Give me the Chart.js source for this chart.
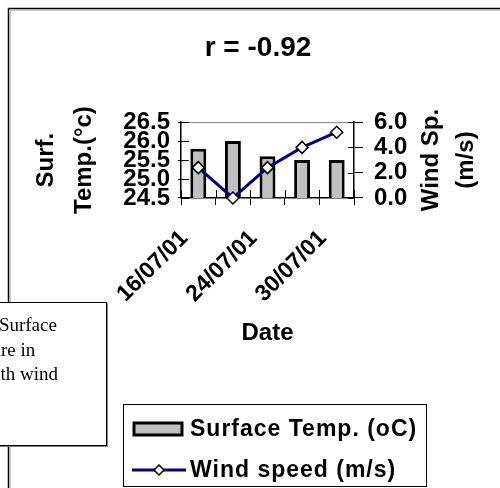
<!DOCTYPE html>
<html>
<head>
<meta charset="utf-8">
<title>r = -0.92</title>
<script src="https://cdn.jsdelivr.net/npm/chart.js@4/dist/chart.umd.min.js"></script>
<style>
  html, body { margin: 0; padding: 0; background: #fff; }
  body { width: 500px; height: 488px; position: relative; overflow: hidden; }
  #wrap { position: absolute; left: 0; top: 0; width: 500px; height: 488px; }
  /* text box pasted over the chart, runs off the left edge of the page */
  #note {
    position: absolute; left: -85px; top: 302px; width: 192px; height: 144px;
    box-sizing: border-box; border: 1px solid #000; background: #fff;
    box-shadow: 1px 1px 0 #808080;
    font: 19px "Times New Roman", "Liberation Serif", serif; line-height: 24.5px;
    padding: 10px 0 0 9px; white-space: nowrap; color: #000;
  }
</style>
</head>
<body>
<div id="wrap"><canvas id="mychart"></canvas></div>
<div id="note">Figure 7: Surface<br>temperature in<br>related with wind<br>speed</div>
<script>
const FONT = "Arial, 'Liberation Sans', sans-serif";

const dates = ['16/07/01', '20/07/01', '24/07/01', '27/07/01', '30/07/01'];
const surfaceTemp = [25.8, 26.0, 25.6, 25.5, 25.5];
const windSpeed = [2.4, 0.0, 2.4, 4.0, 5.2];
const tempTicks = [24.5, 25.0, 25.5, 26.0, 26.5];
const windTicks = [0, 2, 4, 6];

// frame, inner ticks, top border, right axis title and the boxed legend
const extras = {
  id: 'extras',
  beforeDraw(chart) {
    const c = chart.ctx;
    c.save();
    c.strokeStyle = '#000';
    c.lineWidth = 1.5;
    c.beginPath();
    c.moveTo(8.5, chart.height);
    c.lineTo(8.5, 8.5);
    c.lineTo(chart.width, 8.5);
    c.stroke();
    c.strokeStyle = '#9a9a9a';
    c.lineWidth = 1;
    c.beginPath();
    c.moveTo(10, chart.height);
    c.lineTo(10, 10);
    c.lineTo(chart.width, 10);
    c.stroke();
    c.restore();
  },
  beforeDatasetsDraw(chart) {
    const c = chart.ctx, a = chart.chartArea;
    const x = chart.scales.x, y = chart.scales.y, y1 = chart.scales.y1;
    c.save();
    c.strokeStyle = '#808080';
    c.lineWidth = 1;
    c.beginPath();
    c.moveTo(a.left, a.top + 0.5);
    c.lineTo(a.right, a.top + 0.5);
    c.stroke();

    c.strokeStyle = '#000';
    c.beginPath();
    y.ticks.forEach(t => {
      const p = Math.round(y.getPixelForValue(t.value)) + 0.5;
      c.moveTo(a.left, p); c.lineTo(a.left + 8, p);
    });
    y1.ticks.forEach(t => {
      const p = Math.round(y1.getPixelForValue(t.value)) + 0.5;
      c.moveTo(a.right, p); c.lineTo(a.right - 6, p);
    });
    const step = x.getPixelForValue(1) - x.getPixelForValue(0);
    for (let i = 0; i <= dates.length; i++) {
      const p = Math.round(x.getPixelForValue(0) - step / 2 + i * step) + 0.5;
      c.moveTo(p, a.bottom); c.lineTo(p, a.bottom - 8);
    }
    c.stroke();
    c.restore();
  },
  afterDraw(chart) {
    const c = chart.ctx, a = chart.chartArea;
    const y1 = chart.scales.y1;
    const cy = (a.top + a.bottom) / 2;
    c.save();
    c.fillStyle = '#000';
    c.font = 'bold 24px ' + FONT;
    c.textAlign = 'center';
    c.textBaseline = 'middle';
    [['Wind Sp.', 77], ['(m/s)', 112]].forEach(([t, dx]) => {
      c.save();
      c.translate(y1.left + dx, cy);
      c.rotate(-Math.PI / 2);
      c.fillText(t, 0, 0);
      c.restore();
    });

    // legend
    const bar = chart.data.datasets[1], line = chart.data.datasets[0];
    c.strokeStyle = '#000';
    c.lineWidth = 1;
    c.strokeRect(123.5, 404.5, 303, 82);
    const r1 = 429, r2 = 470;
    c.fillStyle = bar.backgroundColor;
    c.fillRect(134, r1 - 6, 48, 12);
    c.lineWidth = 3;
    c.strokeStyle = bar.borderColor;
    c.strokeRect(134, r1 - 6, 48, 12);
    c.strokeStyle = line.borderColor;
    c.lineWidth = line.borderWidth;
    c.beginPath();
    c.moveTo(132, r2); c.lineTo(186, r2);
    c.stroke();
    c.beginPath();
    c.moveTo(159, r2 - 5); c.lineTo(164, r2); c.lineTo(159, r2 + 5); c.lineTo(154, r2);
    c.closePath();
    c.fillStyle = line.pointBackgroundColor;
    c.fill();
    c.lineWidth = line.pointBorderWidth;
    c.strokeStyle = line.pointBorderColor;
    c.stroke();
    c.fillStyle = '#000';
    c.textAlign = 'left';
    c.font = 'bold 23px ' + FONT;
    c.letterSpacing = '1px';
    c.fillText(bar.label, 190, r1 + 1);
    c.fillText(line.label, 190, r2 + 1);
    c.restore();
  }
};

const ctx = document.getElementById('mychart').getContext('2d');
const myChart = new Chart(ctx, {
  data: {
    labels: dates,
    datasets: [{
      type: 'line',
      label: 'Wind speed (m/s)',
      data: windSpeed,
      yAxisID: 'y1',
      order: 0,
      borderColor: '#000080',
      borderWidth: 3,
      tension: 0,
      pointStyle: 'rectRot',
      pointRadius: 6,
      pointBackgroundColor: '#ffffff',
      pointBorderColor: '#000000',
      pointBorderWidth: 1.5,
      clip: false
    }, {
      type: 'bar',
      label: 'Surface Temp. (oC)',
      data: surfaceTemp,
      yAxisID: 'y',
      order: 1,
      backgroundColor: '#c0c0c0',
      borderColor: '#000000',
      borderWidth: 3,
      borderSkipped: false,
      barPercentage: 0.46,
      categoryPercentage: 1
    }]
  },
  options: {
    responsive: true,
    maintainAspectRatio: false,
    animation: false,
    events: [],
    layout: { padding: { left: 16, right: 0, top: 0, bottom: 140 } },
    plugins: {
      legend: { display: false },
      tooltip: { enabled: false },
      title: {
        display: true,
        text: 'r = -0.92',
        color: '#000',
        font: { family: FONT, size: 28, weight: 'bold', lineHeight: 1.2 },
        padding: { top: 31, bottom: 57.5 }
      }
    },
    scales: {
      x: {
        offset: true,
        grid: { offset: true, drawOnChartArea: false, tickLength: 7, color: '#000' },
        border: { color: '#000', width: 1.5 },
        ticks: {
          autoSkip: false, minRotation: 45, maxRotation: 45, padding: 20, labelOffset: -14,
          color: '#000',
          font: { family: FONT, size: 23, weight: 'bold' },
          callback: (v, i) => i % 2 === 0 ? dates[i] : ''
        },
        title: {
          display: true, text: 'Date', color: '#000',
          font: { family: FONT, size: 24, weight: 'bold', lineHeight: 1.2 },
          padding: { top: 0, bottom: 0 }
        },
        afterFit: s => { s.height = 150; }
      },
      y: {
        position: 'left',
        min: tempTicks[0],
        max: tempTicks[tempTicks.length - 1],
        afterBuildTicks: s => { s.ticks = tempTicks.map(v => ({ value: v })); },
        grid: { drawOnChartArea: false, tickLength: 3, color: '#000' },
        border: { color: '#000', width: 1.5 },
        ticks: {
          autoSkip: false, padding: 8, color: '#000',
          font: { family: FONT, size: 24, weight: 'bold', lineHeight: 1 },
          callback: v => v.toFixed(1)
        },
        title: {
          display: true, text: ['Surf.', 'Temp.(°c)'], color: '#000',
          font: { family: FONT, size: 24, weight: 'bold', lineHeight: 1.58 },
          padding: { top: 11, bottom: 0 }
        },
        afterFit: s => { s.width = 165; }
      },
      y1: {
        position: 'right',
        min: windTicks[0],
        max: windTicks[windTicks.length - 1],
        afterBuildTicks: s => { s.ticks = windTicks.map(v => ({ value: v })); },
        grid: { drawOnChartArea: false, tickLength: 9, color: '#000' },
        border: { color: '#000', width: 1.5 },
        ticks: {
          autoSkip: false, padding: 11, color: '#000',
          font: { family: FONT, size: 24, weight: 'bold', lineHeight: 1 },
          callback: v => v.toFixed(1)
        },
        afterFit: s => { s.width = 146; }
      }
    }
  },
  plugins: [extras]
});
</script>
</body>
</html>
